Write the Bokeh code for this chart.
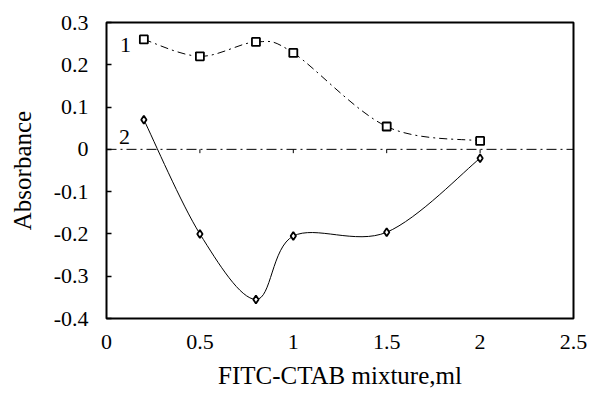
from bokeh.plotting import figure
from bokeh.models import Range1d, FixedTicker, Span
from bokeh.core.properties import value
from bokeh.embed import file_html
from bokeh.resources import INLINE

# ---- data ----
x_vals = [0.2, 0.5, 0.8, 1.0, 1.5, 2.0]
series1 = [0.260, 0.220, 0.254, 0.228, 0.054, 0.020]
series2 = [0.070, -0.200, -0.355, -0.205, -0.196, -0.021]
x_ticks = [0, 0.5, 1, 1.5, 2, 2.5]
x_tick_labels = ["0", "0.5", "1", "1.5", "2", "2.5"]
y_ticks = [-0.4, -0.3, -0.2, -0.1, 0, 0.1, 0.2, 0.3]
y_tick_labels = ["-0.4", "-0.3", "-0.2", "-0.1", "0", "0.1", "0.2", "0.3"]
curve_labels = ["1", "2"]
curve_label_x = [0.102, 0.097]
curve_label_y = [0.246, 0.030]
x_title = "FITC-CTAB mixture,ml"
y_title = "Absorbance"

FONT = "Liberation Serif"
ZERO_TICK_LEN = 0.009  # short category tick below the zero line (style)


def bezier_controls(xs, ys):
    """Catmull-Rom style control points (like a smoothed spreadsheet line)."""
    n = len(xs)
    out = dict(x0=[], y0=[], x1=[], y1=[], cx0=[], cy0=[], cx1=[], cy1=[])
    for i in range(n - 1):
        im = max(i - 1, 0)
        ip2 = min(i + 2, n - 1)
        out["x0"].append(xs[i]); out["y0"].append(ys[i])
        out["x1"].append(xs[i + 1]); out["y1"].append(ys[i + 1])
        out["cx0"].append(xs[i] + (xs[i + 1] - xs[im]) / 6.0)
        out["cy0"].append(ys[i] + (ys[i + 1] - ys[im]) / 6.0)
        out["cx1"].append(xs[i + 1] - (xs[ip2] - xs[i]) / 6.0)
        out["cy1"].append(ys[i + 1] - (ys[ip2] - ys[i]) / 6.0)
    return out


p = figure(width=591, height=401, output_backend="svg", toolbar_location=None,
           x_range=Range1d(0, 2.5), y_range=Range1d(-0.4, 0.3),
           min_border_left=106, min_border_right=18, min_border_top=22,
           min_border_bottom=83)
p.grid.visible = False
p.background_fill_color = "white"
p.border_fill_color = "white"
p.outline_line_color = "black"
p.outline_line_width = 2

# zero reference line (dash-dot)
p.add_layout(Span(location=0, dimension="width", line_color="black",
                  line_width=1, line_dash="10 4 2 4"))

# small category ticks on the zero line
p.segment(x0=x_ticks, y0=[0] * len(x_ticks), x1=x_ticks,
          y1=[-ZERO_TICK_LEN] * len(x_ticks), line_color="black", line_width=1)

# curve 1: smoothed dash-dot with squares
b1 = bezier_controls(x_vals, series1)
p.bezier(source=b1, x0="x0", y0="y0", x1="x1", y1="y1", cx0="cx0", cy0="cy0",
         cx1="cx1", cy1="cy1", line_color="black", line_width=1,
         line_dash="8 4 2 4")
p.scatter(x_vals, series1, marker="square", size=8, fill_color="white",
          line_color="black", line_width=1.8)

# curve 2: smoothed solid with diamonds
b2 = bezier_controls(x_vals, series2)
p.bezier(source=b2, x0="x0", y0="y0", x1="x1", y1="y1", cx0="cx0", cy0="cy0",
         cx1="cx1", cy1="cy1", line_color="black", line_width=1)
p.scatter(x_vals, series2, marker="diamond", size=8, fill_color="white",
          line_color="black", line_width=1.8)

p.text(x=curve_label_x, y=curve_label_y, text=curve_labels,
       text_font=value(FONT), text_font_size="22px", text_align="center",
       text_baseline="middle", text_color="black")

# axes
xa = p.xaxis[0]
xa.ticker = FixedTicker(ticks=x_ticks)
xa.major_label_overrides = {t: l for t, l in zip(x_ticks, x_tick_labels)}
xa.major_tick_in = 0
xa.major_tick_out = 0
xa.minor_tick_line_color = None
xa.axis_line_color = None
xa.major_label_standoff = 16
xa.major_label_text_font = FONT
xa.major_label_text_font_size = "22px"
xa.major_label_text_color = "black"
xa.axis_label = x_title
xa.axis_label_text_font = FONT
xa.axis_label_text_font_size = "25px"
xa.axis_label_text_font_style = "normal"
xa.axis_label_text_color = "black"
xa.axis_label_standoff = 10

ya = p.yaxis[0]
ya.ticker = FixedTicker(ticks=y_ticks)
ya.major_label_overrides = {t: l for t, l in zip(y_ticks, y_tick_labels)}
ya.major_tick_in = 5
ya.major_tick_out = 0
ya.major_tick_line_width = 1.5
ya.minor_tick_line_color = None
ya.axis_line_color = None
ya.major_label_standoff = 18
ya.major_label_text_font = FONT
ya.major_label_text_font_size = "22px"
ya.major_label_text_color = "black"
ya.axis_label = y_title
ya.axis_label_text_font = FONT
ya.axis_label_text_font_size = "25px"
ya.axis_label_text_font_style = "normal"
ya.axis_label_text_color = "black"
ya.axis_label_standoff = 15

open("out.html", "w").write(file_html(p, INLINE))
